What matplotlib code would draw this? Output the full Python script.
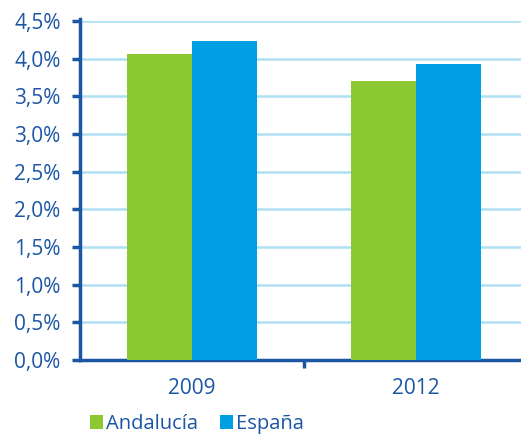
import numpy as np
import matplotlib.pyplot as plt
from matplotlib.ticker import FuncFormatter

plt.rcParams['font.family'] = ['Open Sans', 'DejaVu Sans']

years = ["2009", "2012"]
andalucia = [4.06, 3.70]
espana = [4.24, 3.93]

green = "#8BC832"
blue = "#009FE3"
navy = "#1B56A5"
grid = "#B0E0F5"

fig = plt.figure(figsize=(5.21, 4.37), dpi=100)
ax = fig.add_axes([80 / 521, 77 / 437, 441 / 521, 339 / 437])

x = np.arange(len(years))
w = 0.29
ax.bar(x - w, andalucia, width=w, align="edge", color=green, label="Andalucía", zorder=3)
ax.bar(x, espana, width=w, align="edge", color=blue, label="España", zorder=3)

ax.set_ylim(0, 4.5)
ax.set_xlim(-0.5, 1.469)
ax.set_yticks(np.arange(0, 4.51, 0.5))
ax.yaxis.set_major_formatter(FuncFormatter(lambda v, p: f"{v:.1f}%".replace(".", ",")))
ax.yaxis.grid(True, color=grid, lw=1.8, zorder=0)
ax.set_axisbelow(True)

# category labels without ticks, separator tick between groups
ax.set_xticks([0.5])
ax.set_xticklabels([""])
ax.set_xticks(x, minor=True)
ax.set_xticklabels(years, minor=True)
ax.tick_params(axis="x", which="major", length=6, width=2.5, color=navy, direction="out")
ax.tick_params(axis="x", which="minor", length=0, pad=13, labelsize=15, labelcolor=navy)
ax.tick_params(axis="y", length=6, width=2.5, color=navy, labelsize=15, labelcolor=navy, pad=8)

for s in ["top", "right"]:
    ax.spines[s].set_visible(False)
for s in ["left", "bottom"]:
    ax.spines[s].set_color(navy)
    ax.spines[s].set_linewidth(2.5)
ax.spines["left"].set_bounds(0, 4.53)

leg = fig.legend(loc="center left", bbox_to_anchor=(90 / 521, 13 / 437), ncol=2, frameon=False,
                 fontsize=14.5, handlelength=0.65, handleheight=0.65, handletextpad=0.15,
                 columnspacing=1.1, borderpad=0, borderaxespad=0)
for t in leg.get_texts():
    t.set_color(navy)

fig.savefig("out.png", dpi=100)
